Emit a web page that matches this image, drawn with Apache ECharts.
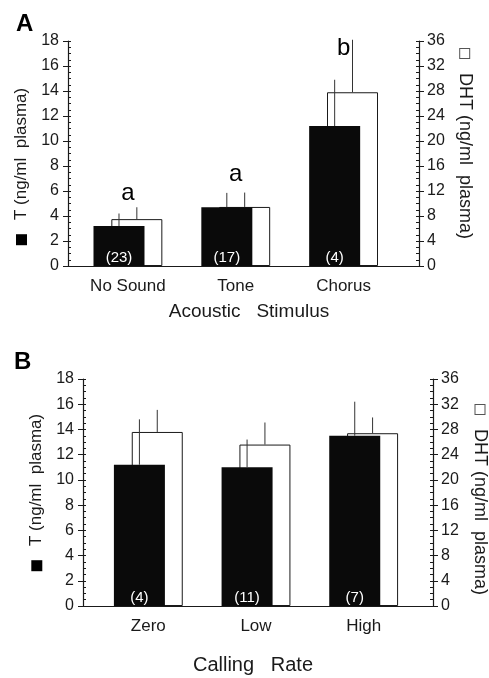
<!DOCTYPE html>
<html>
<head>
<meta charset="utf-8">
<script src="https://cdn.jsdelivr.net/npm/echarts@6/dist/echarts.min.js"></script>
<style>
  html, body { margin: 0; padding: 0; background: #fff; }
  #main { width: 489px; height: 678px; }
</style>
</head>
<body>
<div id="main"></div>
<script>
// panel A: acoustic stimulus
var catsA = ["No Sound", "Tone", "Chorus"];
var tA = [3.2, 4.7, 11.2];
var tSeA = [1.0, 1.15, 3.7];
var dhtA = [7.5, 9.45, 27.8];
var dhtSeA = [1.9, 2.3, 8.4];
var nA = [23, 17, 4];
var lettersA = ["a", "a", "b"];
var letterYA = [5.85, 7.3, 17.45];

// panel B: calling rate
var catsB = ["Zero", "Low", "High"];
var tB = [11.2, 11.0, 13.5];
var tSeB = [3.6, 2.2, 2.7];
var dhtB = [27.6, 25.6, 27.4];
var dhtSeB = [3.5, 3.5, 2.5];
var nB = [4, 11, 7];

var tTicks = [0, 18, 2];
var dhtTicks = [0, 36, 4];

var font = "Liberation Sans, Arial, sans-serif";
var ink = "#1a1a1a";
var barW = 51;
var gapPct = -65;
// horizontal shift of each bar from the category centre
var shift = (barW + barW * gapPct / 100) / 2;

var chart = echarts.init(document.getElementById("main"));

var nameRich = {
  fill: { width: 11, height: 11, backgroundColor: "#000" },
  open: { width: 9, height: 9, backgroundColor: "#fff", borderColor: "#555", borderWidth: 1 }
};

function frameAxesY(grid, tPad, dPad, gapL, gapR) {
  return [
    {
      gridIndex: grid, type: "value", position: "left",
      min: tTicks[0], max: tTicks[1], interval: tTicks[2],
      axisLine: { show: true, lineStyle: { color: ink, width: 1.2 } },
      axisTick: { show: true, length: 5, lineStyle: { color: ink } },
      axisLabel: { fontFamily: font, fontSize: 16, color: ink, margin: 9 },
      splitLine: { show: false },
      name: "{fill|}   T (ng/ml  plasma)", nameLocation: "middle", nameRotate: 90, nameGap: gapL,
      nameTextStyle: { fontFamily: font, fontSize: 17, color: ink, padding: tPad, rich: nameRich }
    },
    {
      gridIndex: grid, type: "value", position: "left",
      min: tTicks[0], max: tTicks[1], interval: 0.5,
      axisLine: { show: false },
      axisTick: { show: true, inside: true, length: 3, lineStyle: { color: ink } },
      axisLabel: { show: false }, splitLine: { show: false }
    },
    {
      gridIndex: grid, type: "value", position: "right",
      min: dhtTicks[0], max: dhtTicks[1], interval: dhtTicks[2],
      axisLine: { show: true, lineStyle: { color: ink, width: 1.2 } },
      axisTick: { show: true, length: 5, lineStyle: { color: ink } },
      axisLabel: { fontFamily: font, fontSize: 16, color: ink, margin: 8 },
      splitLine: { show: false },
      name: "{open|}   DHT (ng/ml  plasma)", nameLocation: "middle", nameRotate: -90, nameGap: gapR,
      nameTextStyle: { fontFamily: font, fontSize: 18, color: ink, padding: dPad, rich: nameRich }
    },
    {
      gridIndex: grid, type: "value", position: "right",
      min: dhtTicks[0], max: dhtTicks[1], interval: 1,
      axisLine: { show: false },
      axisTick: { show: true, inside: true, length: 3, lineStyle: { color: ink } },
      axisLabel: { show: false }, splitLine: { show: false }
    }
  ];
}

function hiddenY(grid, ticks) {
  return {
    gridIndex: grid, type: "value", min: ticks[0], max: ticks[1], show: false,
    splitLine: { show: false }
  };
}

var yAxes = []
  .concat(frameAxesY(0, [0, 26, 0, 0], [0, 19, 0, 0], 38, 34))
  .concat([hiddenY(1, tTicks), hiddenY(1, dhtTicks)])
  .concat(frameAxesY(2, [0, 0, 0, 0], [0, 0, 0, 15], 37, 38))
  .concat([hiddenY(3, tTicks), hiddenY(3, dhtTicks)]);
// yAxis indices: A frame 0-3, A bars T=4 DHT=5, B frame 6-9, B bars T=10 DHT=11

function frameX(grid, cats, name, pad, gap, size) {
  return {
    gridIndex: grid, type: "category", data: cats,
    axisLine: { show: true, lineStyle: { color: ink, width: 1.2 } },
    axisTick: { show: false }, axisLabel: { show: false },
    name: name, nameLocation: "middle", nameGap: gap,
    nameTextStyle: { fontFamily: font, fontSize: size, color: ink, padding: pad }
  };
}

function barX(grid, cats) {
  return {
    gridIndex: grid, type: "category", data: cats,
    axisLine: { show: false }, axisTick: { show: false },
    axisLabel: { fontFamily: font, fontSize: 17, color: ink, margin: 12 }
  };
}

function barSeries(xi, tYi, dYi, tv, dv, n) {
  return [
    {
      type: "bar", xAxisIndex: xi, yAxisIndex: tYi, data: tv,
      barWidth: barW, barGap: gapPct + "%", z: 3,
      itemStyle: { color: "#0a0a0a" },
      label: {
        show: true, position: "insideBottom", distance: 1,
        fontFamily: font, fontSize: 15, color: "#fff",
        formatter: function (p) { return "(" + n[p.dataIndex] + ")"; }
      }
    },
    {
      type: "bar", xAxisIndex: xi, yAxisIndex: dYi, data: dv,
      barWidth: barW, barGap: gapPct + "%", z: 2,
      itemStyle: { color: "#fff", borderColor: ink, borderWidth: 1 }
    }
  ];
}

function errSeries(xi, yi, vals, se, dx) {
  return {
    type: "custom", xAxisIndex: xi, yAxisIndex: yi, z: 5,
    data: vals.map(function (v, i) { return [i, v, se[i]]; }),
    encode: { x: 0, y: 1 },
    renderItem: function (params, api) {
      var i = api.value(0), v = api.value(1), s = api.value(2);
      var p0 = api.coord([i, v]);
      var p1 = api.coord([i, v + s]);
      return {
        type: "line",
        shape: { x1: p0[0] + dx, y1: p0[1], x2: p1[0] + dx, y2: p1[1] },
        style: { stroke: "#333", lineWidth: 1 }
      };
    }
  };
}

// significance letters above panel A
var letterSeries = {
  type: "custom", xAxisIndex: 1, yAxisIndex: 4, z: 6,
  data: letterYA.map(function (v, i) { return [i, v]; }),
  encode: { x: 0, y: 1 },
  renderItem: function (params, api) {
    var p = api.coord([api.value(0), api.value(1)]);
    return {
      type: "text",
      style: {
        text: lettersA[params.dataIndex], x: p[0], y: p[1],
        align: "center", verticalAlign: "middle",
        font: "24px Liberation Sans, Arial, sans-serif", fill: "#000"
      }
    };
  }
};

var option = {
  animation: false,
  backgroundColor: "#fff",
  title: [
    { text: "A", left: 11, top: 7, textStyle: { fontFamily: font, fontSize: 24, fontWeight: "bold", color: "#000" } },
    { text: "B", left: 9, top: 345, textStyle: { fontFamily: font, fontSize: 24, fontWeight: "bold", color: "#000" } }
  ],
  grid: [
    { left: 68, right: 70, top: 41, bottom: 412, outerBoundsMode: "none" },
    { left: 74, right: 91.5, top: 41, bottom: 412, outerBoundsMode: "none" },
    { left: 83, right: 56, top: 379, bottom: 72, outerBoundsMode: "none" },
    { left: 94.5, right: 71.5, top: 379, bottom: 72, outerBoundsMode: "none" }
  ],
  xAxis: [
    frameX(0, catsA, "Acoustic   Stimulus", [0, 0, 0, 11], 36, 19),
    barX(1, catsA),
    frameX(2, catsB, "Calling   Rate", [0, 10, 0, 0], 49, 20),
    barX(3, catsB)
  ],
  yAxis: yAxes,
  series: []
    .concat(barSeries(1, 4, 5, tA, dhtA, nA))
    .concat([
      errSeries(1, 4, tA, tSeA, -shift),
      errSeries(1, 5, dhtA, dhtSeA, shift),
      letterSeries
    ])
    .concat(barSeries(3, 10, 11, tB, dhtB, nB))
    .concat([
      errSeries(3, 10, tB, tSeB, -shift),
      errSeries(3, 11, dhtB, dhtSeB, shift)
    ])
};

chart.setOption(option);
</script>
</body>
</html>
